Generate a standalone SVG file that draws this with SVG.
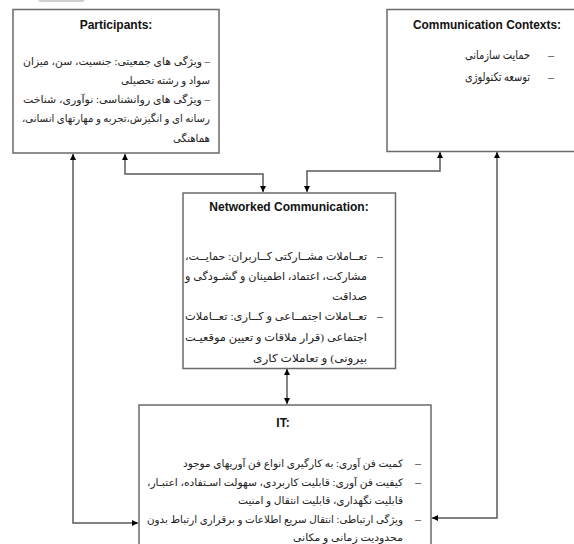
<svg xmlns="http://www.w3.org/2000/svg" width="574" height="544" viewBox="0 0 574 544">
<style>
.box{fill:#fff;stroke:#6a6a6a;stroke-width:1.5}
.ln{fill:none;stroke:#5a5a5a;stroke-width:1.5}
.ttl{font-family:"Liberation Sans",Arial,sans-serif;font-weight:bold;font-size:12px;fill:#111;text-anchor:middle}
.fa{font-family:"Liberation Serif","DejaVu Sans",serif;font-size:10.5px;fill:#222;direction:rtl;text-anchor:start}
.fb{font-size:12px}
.fn{font-size:11px}
.fi{font-size:10.3px}
.dash{font-family:"Liberation Serif",serif;font-size:12px;fill:#333;text-anchor:middle}
</style>
<defs>
<marker id="ah" viewBox="0 0 10 10" refX="10" refY="5" markerWidth="6" markerHeight="6" markerUnits="userSpaceOnUse" orient="auto-start-reverse">
<path d="M0,0 L10,5 L0,10 z" fill="#000"/>
</marker>
</defs>
<rect x="38" y="-6" width="47" height="8" rx="3" fill="#cfcfcf"/>
<g id="connectors">
<path class="ln" d="M125,154 V174 H263 V192" marker-start="url(#ah)" marker-end="url(#ah)"/>
<path class="ln" d="M440,152 V171 H307 V192" marker-start="url(#ah)" marker-end="url(#ah)"/>
<path class="ln" d="M287,369 V404" marker-start="url(#ah)" marker-end="url(#ah)"/>
<path class="ln" d="M73,154 V523 H138" marker-start="url(#ah)" marker-end="url(#ah)"/>
<path class="ln" d="M497,152 V518 H432" marker-start="url(#ah)" marker-end="url(#ah)"/>
</g>
<g id="participants">
<rect class="box" x="13" y="9.5" width="206" height="143.5"/>
<text class="ttl" x="116" y="29">Participants:</text>
<text class="fa" x="210" y="65" textLength="187" lengthAdjust="spacingAndGlyphs">– ویژگی های جمعیتی: جنسیت، سن، میزان</text>
<text class="fa" x="210" y="84" textLength="89" lengthAdjust="spacingAndGlyphs">سواد و رشته تحصیلی</text>
<text class="fa" x="210" y="103" textLength="187" lengthAdjust="spacingAndGlyphs">– ویژگی های روانشناسی: نوآوری، شناخت</text>
<text class="fa" x="210" y="122" textLength="188" lengthAdjust="spacingAndGlyphs">رسانه ای و انگیزش،تجربه و  مهارتهای انسانی،</text>
<text class="fa" x="210" y="142" textLength="37" lengthAdjust="spacingAndGlyphs">هماهنگی</text>
</g>
<g id="contexts">
<rect class="box" x="387" y="9.5" width="200" height="142"/>
<text class="ttl" x="487" y="29" textLength="148" lengthAdjust="spacingAndGlyphs">Communication  Contexts:</text>
<text class="dash" x="551" y="59">–</text>
<text class="fa fb" x="530" y="59" textLength="65" lengthAdjust="spacingAndGlyphs">حمایت سازمانی</text>
<text class="dash" x="551" y="81">–</text>
<text class="fa fb" x="530" y="81" textLength="65" lengthAdjust="spacingAndGlyphs">توسعه تکنولوژی</text>
</g>
<g id="networked">
<rect class="box" x="183" y="193" width="212.5" height="175.5"/>
<text class="ttl" x="289" y="211">Networked Communication:</text>
<text class="dash" x="380" y="260">–</text>
<text class="fa fn" x="367" y="260" textLength="182" lengthAdjust="spacingAndGlyphs">تعــاملات مشــارکتی کــاربران: حمایــت،</text>
<text class="fa fn" x="367" y="280" textLength="182" lengthAdjust="spacingAndGlyphs">مشارکت، اعتماد، اطمینان و گشـودگی و</text>
<text class="fa fn" x="367" y="300" textLength="35" lengthAdjust="spacingAndGlyphs">صداقت</text>
<text class="dash" x="380" y="320">–</text>
<text class="fa fn" x="367" y="320" textLength="182" lengthAdjust="spacingAndGlyphs">تعــاملات اجتمــاعی و کــاری: تعــاملات</text>
<text class="fa fn" x="367" y="341" textLength="182" lengthAdjust="spacingAndGlyphs">اجتماعی (قرار ملاقات و تعیین موقعیـت</text>
<text class="fa fn" x="367" y="362" textLength="114" lengthAdjust="spacingAndGlyphs">بیرونی) و تعاملات کاری</text>
</g>
<g id="it">
<rect class="box" x="139" y="405" width="292" height="150"/>
<text class="ttl" x="283" y="427">IT:</text>
<text class="dash" x="418" y="467">–</text>
<text class="fa fi" x="403" y="467" textLength="220" lengthAdjust="spacingAndGlyphs">کمیت فن آوری: به کارگیری انواع فن آوریهای موجود</text>
<text class="dash" x="418" y="486">–</text>
<text class="fa fi" x="403" y="486" textLength="256" lengthAdjust="spacingAndGlyphs">کیفیت فن آوری: قابلیت کاربردی، سهولت اسـتفاده، اعتبـار،</text>
<text class="fa fi" x="403" y="504" textLength="165" lengthAdjust="spacingAndGlyphs">قابلیت نگهداری، قابلیت انتقال و امنیت</text>
<text class="dash" x="418" y="523">–</text>
<text class="fa fi" x="403" y="523" textLength="256" lengthAdjust="spacingAndGlyphs">ویژگی ارتباطی: انتقال سریع اطلاعات و برقراری ارتباط بدون</text>
<text class="fa fi" x="403" y="541" textLength="110" lengthAdjust="spacingAndGlyphs">محدودیت زمانی و مکانی</text>
</g>
</svg>
